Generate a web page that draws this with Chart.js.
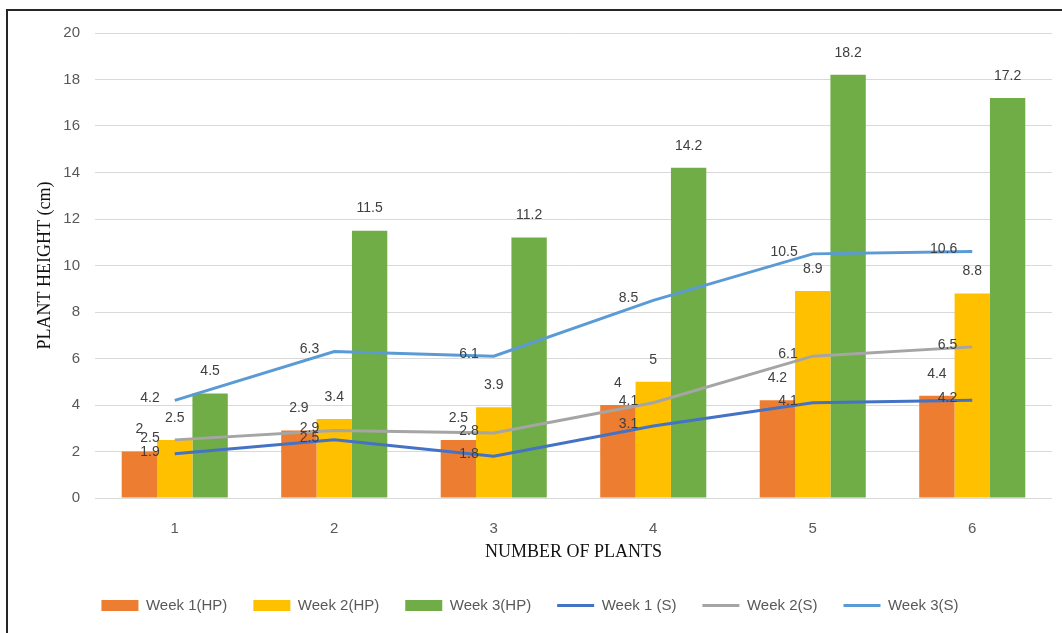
<!DOCTYPE html>
<html>
<head>
<meta charset="utf-8">
<script src="https://cdn.jsdelivr.net/npm/chart.js@4.4.0/dist/chart.umd.min.js"></script>
<style>
  html, body { margin: 0; padding: 0; background: #fff; }
  #wrap { position: relative; width: 1062px; height: 633px; overflow: hidden; }
  #frame { position: absolute; left: 6px; top: 9px; right: -10px; bottom: -10px; border-left: 2px solid #262626; border-top: 2px solid #262626; pointer-events: none; }
  canvas { position: absolute; left: 0; top: 0; }
</style>
</head>
<body>
<div id="wrap">
  <canvas id="chart" width="1062" height="633"></canvas>
  <div id="frame"></div>
</div>
<script>
const plants = ['1', '2', '3', '4', '5', '6'];
const week1HP = [2, 2.9, 2.5, 4, 4.2, 4.4];
const week2HP = [2.5, 3.4, 3.9, 5, 8.9, 8.8];
const week3HP = [4.5, 11.5, 11.2, 14.2, 18.2, 17.2];
const week1S = [1.9, 2.5, 1.8, 3.1, 4.1, 4.2];
const week2S = [2.5, 2.9, 2.8, 4.1, 6.1, 6.5];
const week3S = [4.2, 6.3, 6.1, 8.5, 10.5, 10.6];
const yTicks = [0, 2, 4, 6, 8, 10, 12, 14, 16, 18, 20];

const sans = '"Liberation Sans", Arial, sans-serif';
const serif = '"Liberation Serif", "Times New Roman", serif';

// value labels: above the bars, left of the line points
const valueLabels = {
    id: 'valueLabels',
    afterDatasetsDraw(chart) {
        const ctx = chart.ctx;
        ctx.save();
        ctx.font = '14px ' + sans;
        ctx.fillStyle = '#404040';
        chart.data.datasets.forEach((ds, i) => {
            const meta = chart.getDatasetMeta(i);
            meta.data.forEach((el, j) => {
                const text = String(ds.data[j]);
                if (ds.type === 'line') {
                    ctx.textAlign = 'right';
                    ctx.textBaseline = 'middle';
                    ctx.fillText(text, el.x - 15, el.y - 2);
                } else {
                    ctx.textAlign = 'center';
                    ctx.textBaseline = 'bottom';
                    ctx.fillText(text, el.x, el.y - 15);
                }
            });
        });
        ctx.restore();
    }
};

function barSet(label, data, color) {
    return { type: 'bar', label: label, data: data, backgroundColor: color, borderWidth: 0, order: 2 };
}

function lineSet(label, data, color) {
    return {
        type: 'line', label: label, data: data, borderColor: color, backgroundColor: color,
        borderWidth: 3, pointRadius: 0, tension: 0, order: 1
    };
}

const ctx = document.getElementById('chart').getContext('2d');
new Chart(ctx, {
    data: {
        labels: plants,
        datasets: [
            barSet('Week 1(HP)', week1HP, '#ED7D31'),
            barSet('Week 2(HP)', week2HP, '#FFC000'),
            barSet('Week 3(HP)', week3HP, '#70AD47'),
            lineSet('Week 1 (S)', week1S, '#4472C4'),
            lineSet('Week 2(S)', week2S, '#A5A5A5'),
            lineSet('Week 3(S)', week3S, '#5B9BD5')
        ]
    },
    options: {
        responsive: false,
        animation: false,
        layout: { padding: { left: 8, right: 10, top: 33, bottom: 10 } },
        datasets: {
            bar: { categoryPercentage: 0.665, barPercentage: 1 }
        },
        scales: {
            x: {
                grid: { display: false },
                border: { display: false },
                ticks: { color: '#595959', font: { size: 15, family: sans }, padding: 14 },
                title: {
                    display: true, text: 'NUMBER OF PLANTS', color: '#111',
                    font: { size: 18, family: serif }, padding: { top: 0, bottom: 9 }
                },
                afterFit(scale) { scale.height = 74; }
            },
            y: {
                min: 0,
                max: 20,
                afterBuildTicks(scale) { scale.ticks = yTicks.map(v => ({ value: v })); },
                ticks: { color: '#595959', font: { size: 15, family: sans }, padding: 15 },
                grid: { color: '#d9d9d9', drawTicks: false },
                border: { display: false },
                title: {
                    display: true, text: 'PLANT HEIGHT (cm)', color: '#111',
                    font: { size: 18, family: serif }, padding: { top: 26, bottom: 0 }
                },
                afterFit(scale) { scale.width = 87; }
            }
        },
        plugins: {
            legend: {
                position: 'bottom',
                labels: {
                    usePointStyle: true,
                    pointStyleWidth: 37,
                    boxHeight: 11,
                    padding: 26,
                    color: '#595959',
                    font: { size: 15, family: sans },
                    sort: (a, b) => a.datasetIndex - b.datasetIndex,
                    generateLabels(chart) {
                        const items = Chart.defaults.plugins.legend.labels.generateLabels(chart);
                        items.forEach(item => {
                            const ds = chart.data.datasets[item.datasetIndex];
                            item.pointStyle = ds.type === 'line' ? 'line' : 'rect';
                            if (ds.type !== 'line') item.lineWidth = 0;
                        });
                        return items;
                    }
                }
            },
            tooltip: { enabled: false }
        }
    },
    plugins: [valueLabels]
});
</script>
</body>
</html>
